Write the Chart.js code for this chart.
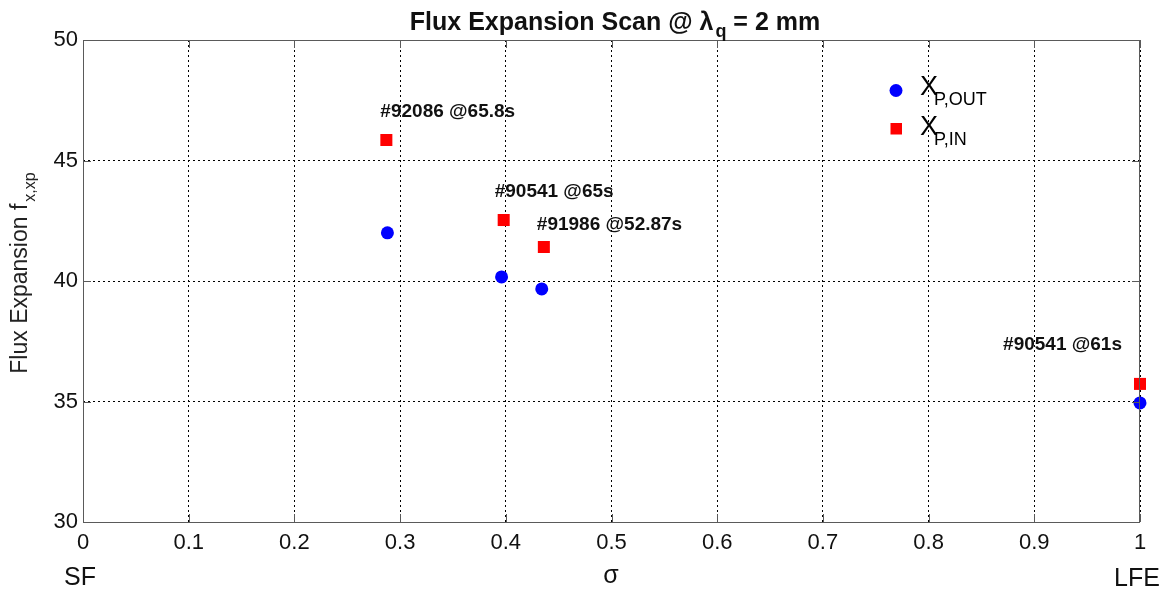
<!DOCTYPE html>
<html>
<head>
<meta charset="utf-8">
<script src="https://cdn.jsdelivr.net/npm/chart.js@4.4.1/dist/chart.umd.min.js"></script>
<style>
  html, body { margin: 0; padding: 0; background: #fff; }
  #wrap { width: 1166px; height: 589px; }
</style>
</head>
<body>
<div id="wrap"><canvas id="fluxChart" width="1166" height="589"></canvas></div>
<script>
// Data
const sigmaOut = [0.288, 0.396, 0.434, 1.0];
const fluxOut = [42.0, 40.17, 39.67, 34.94];
const sigmaIn = [0.287, 0.398, 0.436, 1.0];
const fluxIn = [45.85, 42.53, 41.41, 35.73];
const shotLabels = ['#92086 @65.8s', '#90541 @65s', '#91986 @52.87s', '#90541 @61s'];
const xTicks = [0, 0.1, 0.2, 0.3, 0.4, 0.5, 0.6, 0.7, 0.8, 0.9, 1];
const yTicks = [30, 35, 40, 45, 50];

// label placement relative to the red marker (px)
const labelOffsets = [
  { dx: -6, dy: -28, align: 'left' },
  { dx: -9, dy: -28, align: 'left' },
  { dx: -7, dy: -22, align: 'left' },
  { dx: -18, dy: -39, align: 'right' }
];

const FONT = '"Liberation Sans", Arial, sans-serif';

function toPoints(xs, ys) {
  return xs.map((x, i) => ({ x: x, y: ys[i] }));
}

// text with subscript helper
function drawSub(ctx, x, y, main, sub, size, subSize, subDx, subDy, bold) {
  const w = bold ? 'bold ' : '';
  ctx.font = w + size + 'px ' + FONT;
  ctx.fillText(main, x, y);
  const mw = ctx.measureText(main).width;
  ctx.font = w + subSize + 'px ' + FONT;
  ctx.fillText(sub, x + mw + subDx, y + subDy);
  return mw + subDx + ctx.measureText(sub).width;
}

const decorPlugin = {
  id: 'decor',
  afterDraw(chart) {
    const ctx = chart.ctx;
    const area = chart.chartArea;
    const xs = chart.scales.x;
    const ys = chart.scales.y;
    ctx.save();

    // box around the axes
    ctx.strokeStyle = '#5a5a5a';
    ctx.lineWidth = 1;
    ctx.strokeRect(area.left + 0.5, area.top + 0.5, area.right - area.left - 1, area.bottom - area.top);

    // inward tick marks (top and bottom, left and right)
    ctx.beginPath();
    xTicks.forEach(v => {
      const px = Math.round(xs.getPixelForValue(v)) + 0.5;
      ctx.moveTo(px, area.bottom); ctx.lineTo(px, area.bottom - 8);
      ctx.moveTo(px, area.top); ctx.lineTo(px, area.top + 8);
    });
    yTicks.forEach(v => {
      const py = Math.round(ys.getPixelForValue(v)) + 0.5;
      ctx.moveTo(area.left, py); ctx.lineTo(area.left + 8, py);
      ctx.moveTo(area.right, py); ctx.lineTo(area.right - 8, py);
    });
    ctx.stroke();

    // shot labels next to red markers
    ctx.fillStyle = '#111';
    ctx.font = 'bold 19px ' + FONT;
    ctx.textBaseline = 'middle';
    const meta = chart.getDatasetMeta(1);
    meta.data.forEach((pt, i) => {
      const o = labelOffsets[i];
      ctx.textAlign = o.align;
      ctx.fillText(shotLabels[i], pt.x + o.dx, pt.y + o.dy);
    });

    // title
    ctx.textAlign = 'left';
    ctx.textBaseline = 'alphabetic';
    const t1 = 'Flux Expansion Scan @ \u03bb';
    const t2 = ' = 2 mm';
    ctx.font = 'bold 25px ' + FONT;
    const w1 = ctx.measureText(t1).width;
    const w2 = ctx.measureText(t2).width;
    ctx.font = 'bold 18px ' + FONT;
    const ws = ctx.measureText('q').width;
    const tx = 615 - (w1 + ws + 2 + w2) / 2;
    drawSub(ctx, tx, 30, t1, 'q', 25, 18, 2, 7, true);
    ctx.font = 'bold 25px ' + FONT;
    ctx.fillText(t2, tx + w1 + ws + 2, 30);

    // y axis title
    ctx.save();
    ctx.translate(27, 273);
    ctx.rotate(-Math.PI / 2);
    ctx.font = '23px ' + FONT;
    const yw1 = ctx.measureText('Flux Expansion f').width;
    ctx.font = '16px ' + FONT;
    const yw2 = ctx.measureText('x,xp').width;
    ctx.fillStyle = '#222';
    drawSub(ctx, -(yw1 + yw2 + 2) / 2, 0, 'Flux Expansion f', 'x,xp', 23, 16, 2, 8, false);
    ctx.restore();

    // x axis captions
    ctx.fillStyle = '#111';
    ctx.font = '25px ' + FONT;
    ctx.textAlign = 'center';
    ctx.fillText('SF', 80, 585);
    ctx.fillText('\u03c3', 611, 583);
    ctx.fillText('LFE', 1137, 586);

    // legend
    ctx.textAlign = 'left';
    ctx.fillStyle = '#0000ff';
    ctx.beginPath();
    ctx.arc(896, 90.5, 6.5, 0, Math.PI * 2);
    ctx.fill();
    ctx.fillStyle = '#ff0000';
    ctx.fillRect(890.5, 123, 11.5, 11.5);
    ctx.fillStyle = '#000';
    drawSub(ctx, 920, 95, 'X', 'P,OUT', 27, 18, -4, 10, false);
    drawSub(ctx, 920, 135, 'X', 'P,IN', 27, 18, -4, 10, false);

    ctx.restore();
  }
};

const ctx = document.getElementById('fluxChart').getContext('2d');
const chart = new Chart(ctx, {
  type: 'scatter',
  data: {
    datasets: [
      {
        label: 'X P,OUT',
        data: toPoints(sigmaOut, fluxOut),
        pointStyle: 'circle',
        pointRadius: 6.5,
        backgroundColor: '#0000ff',
        borderColor: '#0000ff',
        borderWidth: 0,
        clip: false
      },
      {
        label: 'X P,IN',
        data: toPoints(sigmaIn, fluxIn),
        pointStyle: 'rect',
        pointRadius: 8.5,
        backgroundColor: '#ff0000',
        borderColor: '#ff0000',
        borderWidth: 0,
        clip: false
      }
    ]
  },
  options: {
    responsive: false,
    animation: false,
    devicePixelRatio: 1,
    layout: { padding: { top: 40, right: 26, left: 0, bottom: 0 } },
    plugins: {
      legend: { display: false },
      tooltip: { enabled: false },
      title: { display: false }
    },
    scales: {
      x: {
        type: 'linear',
        min: 0,
        max: 1,
        afterBuildTicks: axis => { axis.ticks = xTicks.map(v => ({ value: v })); },
        afterFit: axis => { axis.height = 67; },
        grid: { color: '#000', lineWidth: 1, drawTicks: false },
        border: { display: false, dash: [2, 3] },
        ticks: {
          padding: 8,
          color: '#111',
          font: { family: FONT, size: 22 },
          callback: v => String(v)
        }
      },
      y: {
        type: 'linear',
        min: 30,
        max: 50,
        afterBuildTicks: axis => { axis.ticks = yTicks.map(v => ({ value: v })); },
        afterFit: axis => { axis.width = 83; },
        grid: { color: '#000', lineWidth: 1, drawTicks: false },
        border: { display: false, dash: [2, 3] },
        ticks: {
          padding: 5,
          color: '#111',
          font: { family: FONT, size: 22 },
          callback: v => String(v)
        }
      }
    }
  },
  plugins: [decorPlugin]
});
</script>
</body>
</html>
